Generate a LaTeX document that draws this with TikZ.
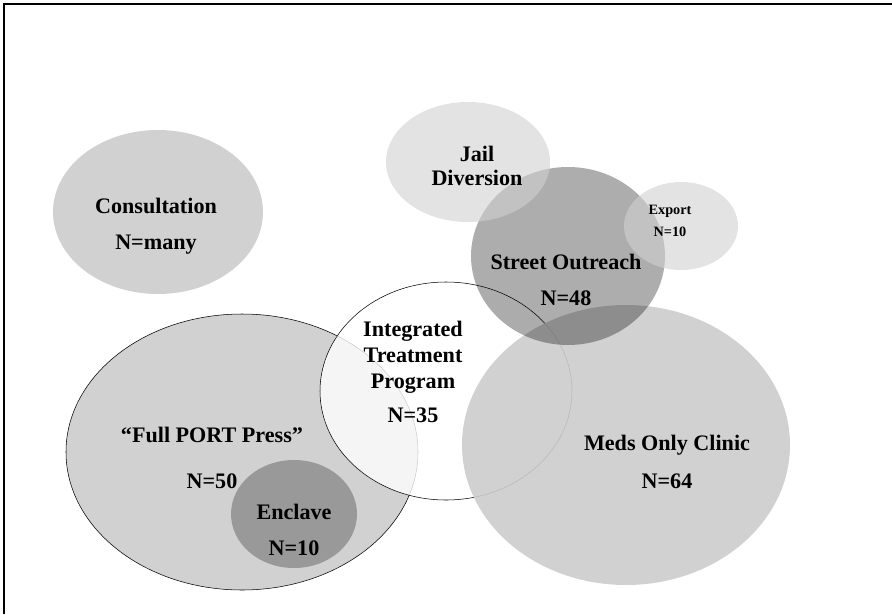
\documentclass[tikz,border=0pt]{standalone}
\usepackage{fontspec}
\setmainfont{Liberation Serif}
\usepackage{tikz}
\usetikzlibrary{shapes.geometric}

\begin{document}
\begin{tikzpicture}[
  x=0.75pt, y=-0.75pt,
  blob/.style 2 args={ellipse,inner sep=0pt,minimum width=#1*1.5pt,minimum height=#2*1.5pt},
  light/.style={fill=black!18},
  lbl/.style={align=center,inner sep=0pt,font=\fontsize{16.6}{18}\selectfont\bfseries},
  small/.style={align=center,inner sep=0pt,font=\fontsize{10.7}{13}\selectfont\bfseries},
]
\useasboundingbox (0,0) rectangle (892,614);
\draw[line width=1.5pt] (4,614) -- (4,4) -- (892,4);

% programs
\node[blob={105}{82},light] (cons) at (158,212) {};
\node[blob={176}{138},light,draw=black,thin] (port) at (242,452) {};
\node[blob={63}{54},fill=black!40] (encl) at (294,514) {};
\node[blob={126}{109},fill=white,fill opacity=0.8,draw=black,thin] (itp) at (446,391) {};
\node[blob={164}{140},fill=black!20,fill opacity=0.9] (meds) at (626,445) {};
\node[blob={97}{89},fill=black,fill opacity=0.32] (so) at (568,256) {};
\node[blob={82}{60},light,fill opacity=0.6] (jail) at (468,162) {};
\node[blob={57}{44},light,fill opacity=0.6] (exp) at (681,226) {};

% labels
\node[lbl] (cons-t) at (156,226) {Consultation\\[9pt]N=many};
\node[lbl] (jail-t) at (477,166) {Jail\\Diversion};
\node[lbl] (so-t) at (566,280) {Street Outreach\\[9pt]N=48};
\node[small] (exp-t) at (670,221) {Export\\[4pt]N=10};
\node[lbl] (itp-t) at (413,372) {Integrated\\[1.5pt]Treatment\\[1.5pt]Program\\[8pt]N=35};
\node[lbl] (port-t) at (212,458) {``Full PORT Press''\\[16pt]N=50};
\node[lbl] (encl-t) at (294,530) {Enclave\\[9pt]N=10};
\node[lbl] (meds-t) at (667,462) {Meds Only Clinic\\[10pt]N=64};
\end{tikzpicture}
\end{document}
